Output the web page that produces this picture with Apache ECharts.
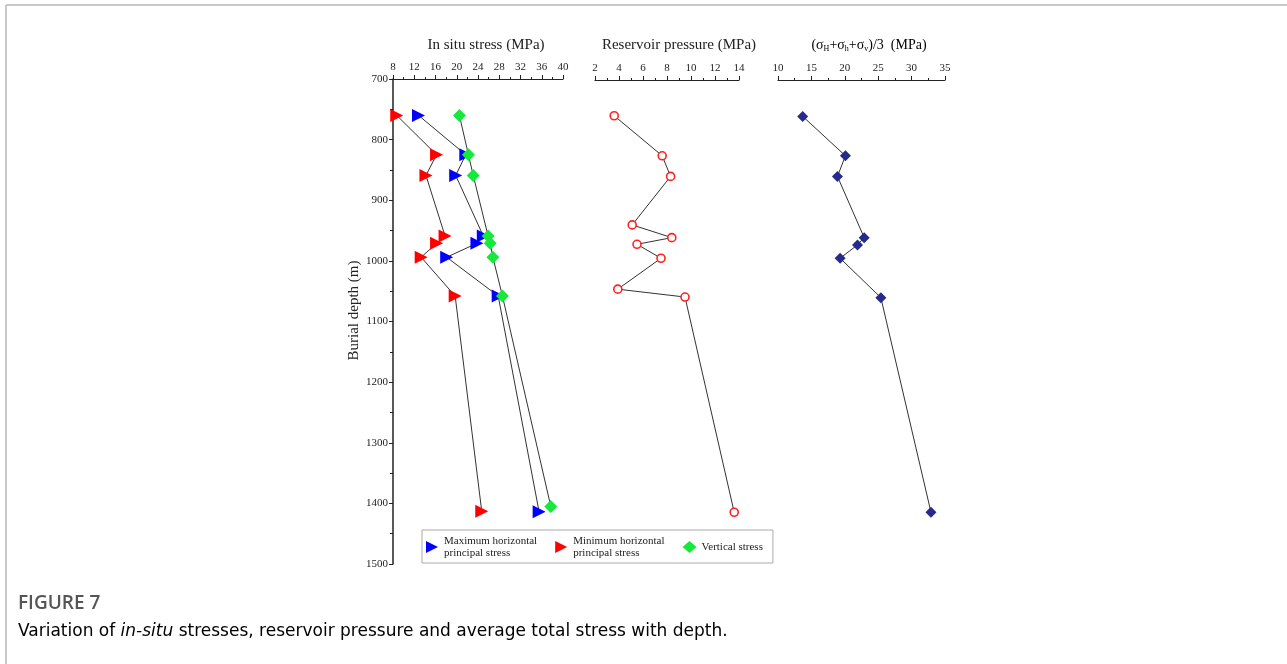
<!DOCTYPE html>
<html><head><meta charset="utf-8">
<script src="https://cdn.jsdelivr.net/npm/echarts@6/dist/echarts.min.js"></script>
<style>html,body{margin:0;padding:0;background:#fff}#c{width:1287px;height:664px}</style>
</head><body><div id="c"></div>
<script>
// ---- data ----
const shmaxDepth = [760, 825, 859, 959, 971, 994, 1058, 1414];
const shmax      = [12.8, 21.7, 19.8, 25.0, 23.8, 18.1, 27.8, 35.5];
const shminDepth = [760, 825, 859, 959, 971, 994, 1058, 1413];
const shmin      = [8.7, 16.2, 14.2, 17.8, 16.2, 13.3, 19.7, 24.7];
const svDepth    = [760, 825, 859, 959, 971, 994, 1058, 1405];
const sv         = [20.5, 22.2, 23.1, 25.9, 26.3, 26.8, 28.6, 37.7];
const ppDepth    = [759, 825, 859, 939, 960, 971, 994, 1045, 1058, 1413];
const pp         = [3.6, 7.6, 8.3, 5.1, 8.4, 5.5, 7.5, 3.9, 9.5, 13.6];
const avgDepth   = [760, 825, 859, 960, 972, 994, 1059, 1413];
const avg        = [13.7, 20.1, 18.9, 22.9, 21.9, 19.3, 25.4, 32.9];
const legendNames = ['Maximum horizontal\nprincipal stress', 'Minimum horizontal\nprincipal stress', 'Vertical stress'];
const panelTitles = ['In situ stress (MPa)', 'Reservoir pressure (MPa)'];

const pairs = (xs, ys) => xs.map((v, i) => [v, ys[i]]);
const SERIF = '"Liberation Serif","DejaVu Serif",serif';
const axisCol = '#222';
const RIGHT_TRI = 'path://M0,0 L10,5 L0,10 Z';

function xAx(gi, min, max, interval) {
  return {
    type: 'value', gridIndex: gi, position: 'top', min, max, interval,
    axisLine: { show: true, lineStyle: { color: axisCol, width: 1.2 } },
    axisTick: { show: true, inside: false, length: 4, lineStyle: { color: axisCol } },
    minorTick: { show: true, splitNumber: 2, length: 2, lineStyle: { color: axisCol } },
    axisLabel: { color: '#222', fontFamily: SERIF, fontSize: 11, margin: 6 },
    splitLine: { show: false }, minorSplitLine: { show: false }
  };
}
function yAx(gi, show) {
  return {
    type: 'value', gridIndex: gi, inverse: true, min: 700, max: 1500, interval: 100,
    show: show,
    name: show ? 'Burial depth (m)' : '', nameLocation: 'middle', nameGap: 31,
    nameTextStyle: { fontFamily: SERIF, fontSize: 15, color: '#222', padding: [0, 0, 0, 22] },
    axisLine: { show: show, lineStyle: { color: axisCol, width: 1.5 } },
    axisTick: { show: show, length: 4, lineStyle: { color: axisCol } },
    minorTick: { show: show, splitNumber: 2, length: 3, lineStyle: { color: axisCol } },
    axisLabel: { show: show, color: '#222', fontFamily: SERIF, fontSize: 11, margin: 5, formatter: v => String(v) },
    splitLine: { show: false }
  };
}
const lineStyle = { color: '#333', width: 1 };
function stressSeries(name, xs, ys, symbol, color, size, rot) {
  return {
    name, type: 'line', xAxisIndex: 0, yAxisIndex: 0, data: pairs(xs, ys),
    symbol, symbolSize: size, symbolRotate: rot, showAllSymbol: true,
    lineStyle, itemStyle: { color }, z: 3, animation: false
  };
}

const chart = echarts.init(document.getElementById('c'), null, { renderer: 'canvas' });
chart.setOption({
  backgroundColor: '#fff',
  animation: false,
  grid: [
    { left: 393, top: 79, width: 170, height: 485 },
    { left: 595, top: 80, width: 144, height: 485 },
    { left: 778, top: 80, width: 167, height: 485 }
  ],
  xAxis: [xAx(0, 8, 40, 4), xAx(1, 2, 14, 2), xAx(2, 10, 35, 5)],
  yAxis: [yAx(0, true), yAx(1, false), yAx(2, false)],
  legend: {
    data: [
      { name: legendNames[0], icon: RIGHT_TRI },
      { name: legendNames[1], icon: RIGHT_TRI },
      { name: legendNames[2], icon: 'diamond' }
    ],
    symbolRotate: 0,
    left: 422, top: 530, orient: 'horizontal',
    borderColor: '#aaa', borderWidth: 1, padding: [5, 10, 4, 4],
    itemWidth: 14, itemHeight: 12, itemGap: 18,
    textStyle: { fontFamily: SERIF, fontSize: 11, color: '#222', lineHeight: 12 },
    selectedMode: false
  },
  series: [
    stressSeries(legendNames[0], shmax, shmaxDepth, 'triangle', '#0000ff', 13, -90),
    stressSeries(legendNames[1], shmin, shminDepth, 'triangle', '#ff0000', 13, -90),
    stressSeries(legendNames[2], sv, svDepth, 'diamond', '#18e83c', 13, 0),
    {
      name: 'Reservoir pressure', type: 'line', xAxisIndex: 1, yAxisIndex: 1,
      data: pairs(pp, ppDepth), symbol: 'circle', symbolSize: 8, showAllSymbol: true,
      lineStyle, itemStyle: { color: '#fff', borderColor: '#ff2020', borderWidth: 1.6 }
    },
    {
      name: 'Average stress', type: 'line', xAxisIndex: 2, yAxisIndex: 2,
      data: pairs(avg, avgDepth), symbol: 'diamond', symbolSize: 11, showAllSymbol: true,
      lineStyle, itemStyle: { color: '#262a8c' }
    }
  ],
  graphic: [
    { type: 'line', shape: { x1: 6, y1: 5, x2: 1287, y2: 5 }, style: { stroke: '#c8c8c8', lineWidth: 2 }, silent: true },
    { type: 'line', shape: { x1: 6, y1: 5, x2: 6, y2: 664 }, style: { stroke: '#c8c8c8', lineWidth: 2 }, silent: true },
    { type: 'text', x: 486, y: 45, style: { text: panelTitles[0], font: '15px ' + SERIF, fill: '#222', textAlign: 'center', textVerticalAlign: 'middle' } },
    { type: 'text', x: 679, y: 45, style: { text: panelTitles[1], font: '15px ' + SERIF, fill: '#222', textAlign: 'center', textVerticalAlign: 'middle' } },
    { type: 'text', x: 869, y: 45, style: {
        text: '{a|(σ}{s|H}{a|+σ}{s|h}{a|+σ}{s|v}{a|)/3  (MPa)}',
        textAlign: 'center', textVerticalAlign: 'middle',
        rich: {
          a: { fontFamily: SERIF, fontSize: 14, color: '#222', lineHeight: 17, verticalAlign: 'middle' },
          s: { fontFamily: SERIF, fontSize: 8, color: '#222', lineHeight: 17, verticalAlign: 'bottom', padding: [0, 0, 1, 0] }
        } } },
    { type: 'text', x: 18, y: 604, style: { text: 'FIGURE 7', font: '600 19px "Open Sans", sans-serif', fill: '#555', textVerticalAlign: 'middle' } },
    { type: 'text', x: 18, y: 632, style: {
        text: '{n|Variation of }{i|in-situ}{n| stresses, reservoir pressure and average total stress with depth.}',
        textVerticalAlign: 'middle',
        rich: {
          n: { fontFamily: '"DejaVu Sans", sans-serif', fontSize: 17, color: '#666' },
          i: { fontFamily: '"DejaVu Sans", sans-serif', fontSize: 17, fontStyle: 'italic', color: '#666' }
        } } }
  ]
});
</script></body></html>
